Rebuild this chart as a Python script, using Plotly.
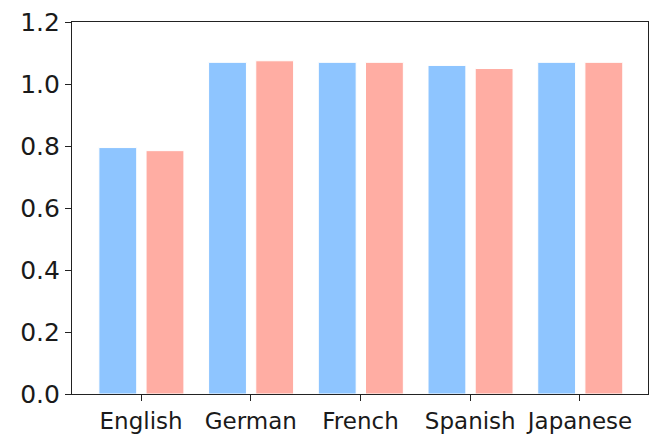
import plotly.graph_objects as go

categories = ["English", "German", "French", "Spanish", "Japanese"]
series_a = [0.795, 1.07, 1.07, 1.06, 1.07]
series_b = [0.785, 1.075, 1.07, 1.05, 1.07]
y_ticks = [0.0, 0.2, 0.4, 0.6, 0.8, 1.0, 1.2]

xpos = list(range(len(categories)))

fig = go.Figure()
fig.add_trace(go.Bar(x=xpos, y=series_a, width=0.345, offset=-0.385,
                     marker=dict(color="#8EC5FF", line=dict(color="white", width=1)),
                     showlegend=False))
fig.add_trace(go.Bar(x=xpos, y=series_b, width=0.345, offset=0.045,
                     marker=dict(color="#FFADA3", line=dict(color="white", width=1)),
                     showlegend=False))

fig.update_layout(
    width=664, height=444,
    margin=dict(l=72, r=16, t=22, b=50, autoexpand=False),
    plot_bgcolor="white", paper_bgcolor="white",
    font=dict(family="DejaVu Sans", color="#1a1a1a"),
    barmode="overlay",
)
fig.update_xaxes(
    range=[-0.63, 4.62], tickvals=xpos, ticktext=categories,
    showline=True, linecolor="#222", linewidth=1.2, mirror=True,
    ticks="outside", ticklen=6, tickcolor="#222", automargin=False,
    showgrid=False, zeroline=False, tickfont=dict(size=23),
)
fig.update_yaxes(
    range=[0, 1.2001], tickvals=y_ticks, ticktext=[f"{v:.1f}" for v in y_ticks],
    showline=True, linecolor="#222", linewidth=1.2, mirror=True,
    ticks="outside", ticklen=6, tickcolor="#222", automargin=False,
    showgrid=False, zeroline=False, tickfont=dict(size=25),
)

fig.write_html(
    "out.html",
    config={"displayModeBar": False},
    post_script="document.body.style.margin='0';document.body.style.overflow='hidden';",
)
